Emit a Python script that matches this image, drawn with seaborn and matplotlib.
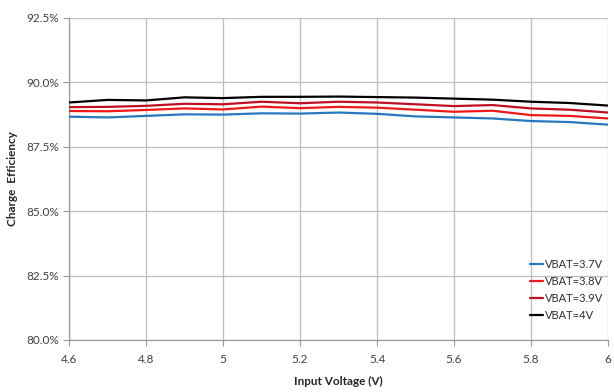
import matplotlib
matplotlib.use("Agg")
import matplotlib.pyplot as plt
import seaborn as sns
import pandas as pd
from matplotlib.ticker import FuncFormatter

# Input voltage sweep (V)
voltage = [4.6, 4.7, 4.8, 4.9, 5.0, 5.1, 5.2, 5.3, 5.4, 5.5, 5.6, 5.7, 5.8, 5.9, 6.0]

# Charge efficiency (%) for each battery voltage
eff_37 = [88.67, 88.64, 88.70, 88.76, 88.75, 88.80, 88.79, 88.83, 88.78, 88.68, 88.64, 88.60, 88.50, 88.46, 88.36]
eff_38 = [88.89, 88.88, 88.93, 88.99, 88.95, 89.06, 89.00, 89.05, 89.02, 88.94, 88.86, 88.90, 88.73, 88.70, 88.60]
eff_39 = [89.04, 89.05, 89.09, 89.17, 89.15, 89.25, 89.19, 89.25, 89.22, 89.15, 89.08, 89.12, 88.99, 88.94, 88.83]
eff_40 = [89.22, 89.32, 89.30, 89.42, 89.39, 89.44, 89.44, 89.45, 89.43, 89.41, 89.37, 89.33, 89.25, 89.20, 89.10]

series_labels = ["VBAT=3.7V", "VBAT=3.8V", "VBAT=3.9V", "VBAT=4V"]
x_ticks = [4.6, 4.8, 5.0, 5.2, 5.4, 5.6, 5.8, 6.0]
x_tick_labels = ["4.6", "4.8", "5", "5.2", "5.4", "5.6", "5.8", "6"]
y_ticks = [80.0, 82.5, 85.0, 87.5, 90.0, 92.5]

df = pd.concat([
    pd.DataFrame({"Input Voltage (V)": voltage, "Efficiency": vals, "Series": lab})
    for vals, lab in zip([eff_37, eff_38, eff_39, eff_40], series_labels)
])

sns.set_theme(style="white")
plt.rcParams["font.family"] = ["Lato", "DejaVu Sans"]

fig = plt.figure(figsize=(6.14, 3.92), dpi=100)
ax = fig.add_axes([69 / 614, 1 - 340 / 392, (608 - 69) / 614, (340 - 18) / 392])

palette = {"VBAT=3.7V": "#2878C0", "VBAT=3.8V": "#F01818",
           "VBAT=3.9V": "#C01020", "VBAT=4V": "#000000"}
sns.lineplot(data=df, x="Input Voltage (V)", y="Efficiency", hue="Series",
             palette=palette, linewidth=1.6, ax=ax, zorder=3)

ax.set_xlim(4.6, 6.0)
ax.set_ylim(80.0, 92.5)
ax.set_xticks(x_ticks)
ax.set_xticklabels(x_tick_labels)
ax.set_yticks(y_ticks)
ax.yaxis.set_major_formatter(FuncFormatter(lambda v, p: f"{v:.1f}%"))

ax.grid(True, color="#BEBEBE", linewidth=0.9)
for side in ["top", "right"]:
    ax.spines[side].set_visible(False)
for side in ["left", "bottom"]:
    ax.spines[side].set_color("#9A9A9A")
    ax.spines[side].set_linewidth(0.9)

ax.tick_params(axis="both", which="both", length=4, width=0.8, color="#9A9A9A",
               labelsize=8.5, labelcolor="#404040", direction="out",
               bottom=True, left=True)
ax.tick_params(axis="x", pad=6)
ax.tick_params(axis="y", pad=3)

ax.set_xlabel("Input Voltage (V)", fontsize=8.5, fontweight="bold", color="#262626", labelpad=8)
ax.set_ylabel("Charge  Efficiency", fontsize=8.5, fontweight="bold", color="#262626", labelpad=6)

leg = ax.legend(loc="lower right", bbox_to_anchor=(1.005, 0.035), frameon=False,
                fontsize=8, handlelength=1.2, handletextpad=0.15, labelspacing=0.55,
                borderaxespad=0.3)
for t in leg.get_texts():
    t.set_color("#303030")

fig.savefig("out.png", dpi=100, facecolor="white")
